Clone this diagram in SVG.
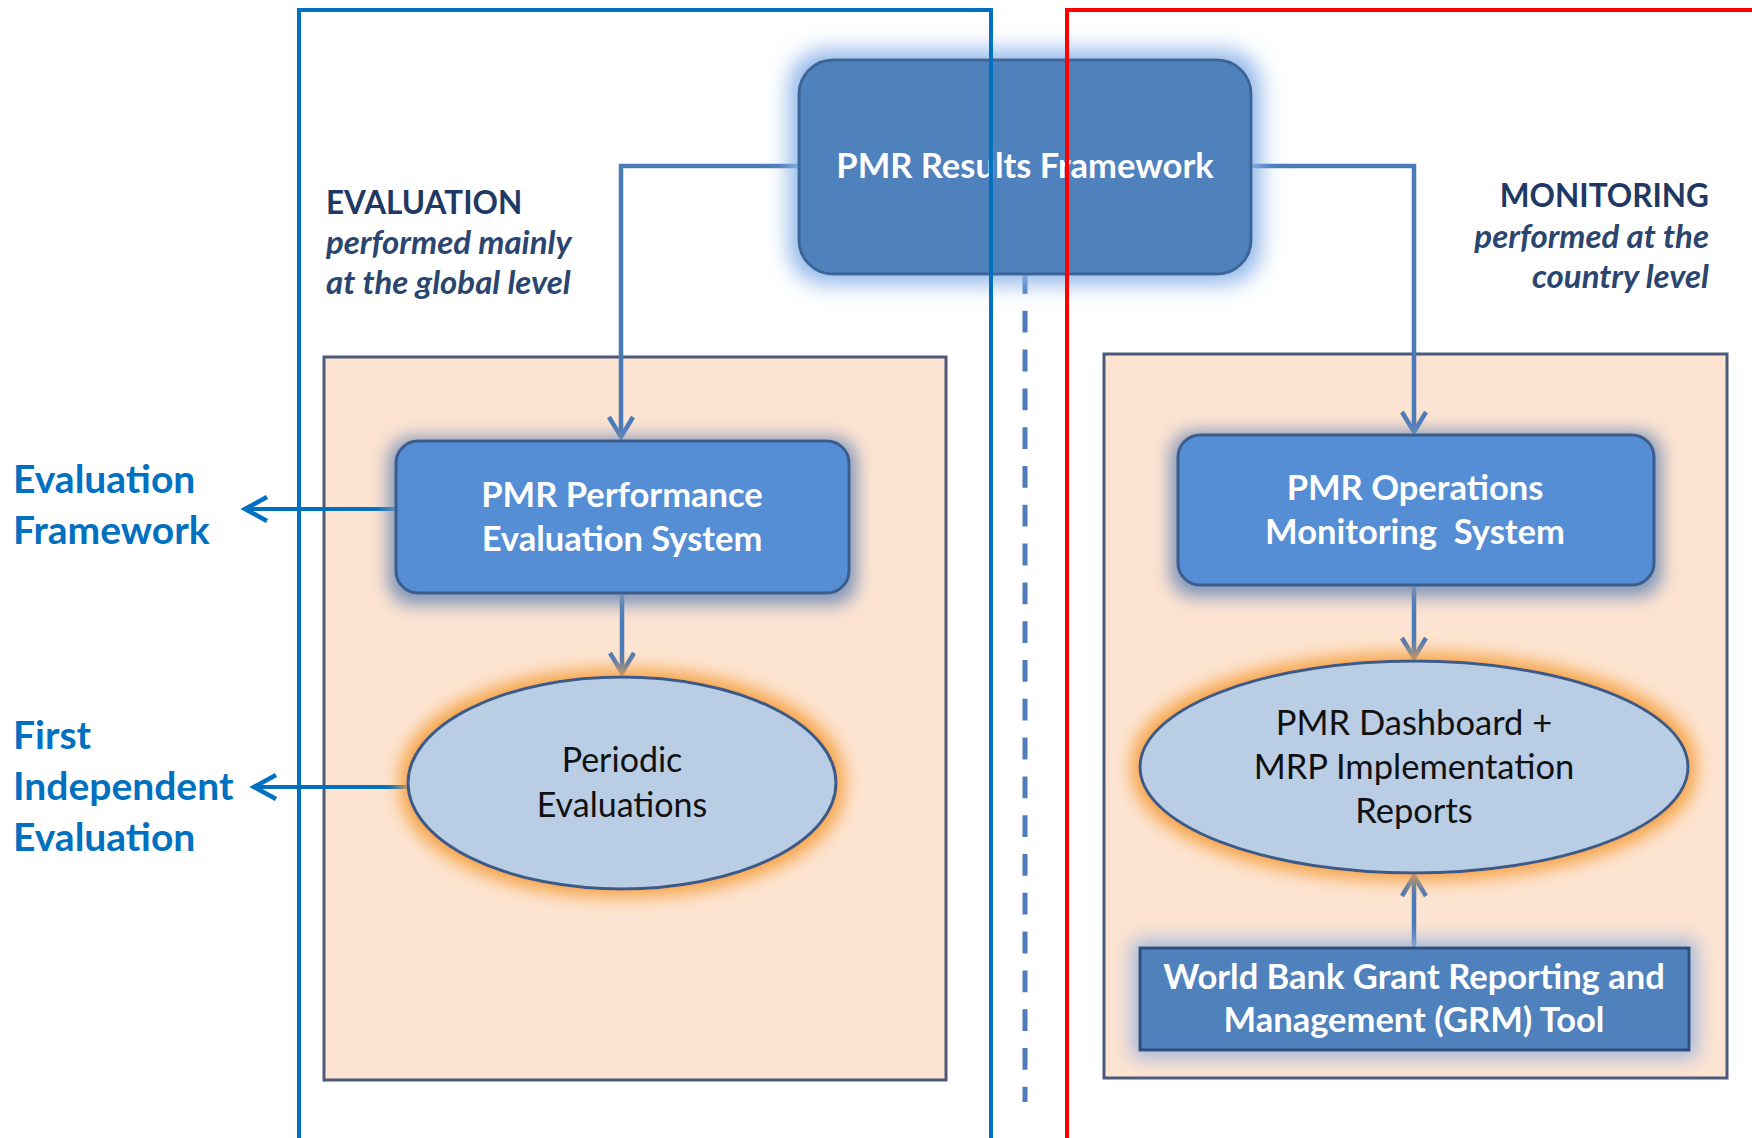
<svg xmlns="http://www.w3.org/2000/svg" width="1752" height="1138" viewBox="0 0 1752 1138">
<style>
.frameB{fill:none;stroke:#0070c0;stroke-width:4}
.frameR{fill:none;stroke:#ff0000;stroke-width:4}
.panel{fill:#fde4d2;stroke:#4b5a78;stroke-width:3}
.top{fill:#4f81bd;stroke:#3c6597;stroke-width:3}
.sys{fill:#558ed5;stroke:#3b5d8e;stroke-width:3}
.ell{fill:#b9cde5;stroke:#3a5a86;stroke-width:3}
.grm{fill:#4f81bd;stroke:#2d4e7c;stroke-width:3}
.conn{fill:none;stroke:#4a7ab8;stroke-width:4.5}
.lab{fill:none;stroke:#0070c0;stroke-width:4}
.dash{stroke:#4f7dbb;stroke-width:5;stroke-dasharray:21.8 17}
.wt{font-family:Lato,"Open Sans",sans-serif;font-weight:bold;fill:#ffffff;text-anchor:middle}
.bt{font-family:Lato,"Open Sans",sans-serif;fill:#111111;text-anchor:middle}
.side{font-family:Lato,"Open Sans",sans-serif;font-weight:bold;fill:#0070c0;font-size:39px}
.head{font-family:Lato,"Open Sans",sans-serif;font-weight:bold;fill:#1f3864;font-size:31.5px}
.sub{font-family:Lato,"Open Sans",sans-serif;font-weight:bold;font-style:italic;fill:#2a4670;font-size:33px}
</style>
<defs>
<filter id="gTop" x="-25%" y="-50%" width="150%" height="200%">
<feMorphology in="SourceAlpha" operator="dilate" radius="8" result="d"/>
<feGaussianBlur in="d" stdDeviation="11" result="b"/>
<feFlood flood-color="#8db5ea"/>
<feComposite in2="b" operator="in" result="g"/>
<feMerge><feMergeNode in="g"/><feMergeNode in="SourceGraphic"/></feMerge>
</filter>
<filter id="gSys" x="-20%" y="-40%" width="140%" height="180%">
<feMorphology in="SourceAlpha" operator="dilate" radius="6" result="d"/>
<feGaussianBlur in="d" stdDeviation="9" result="b"/>
<feOffset in="b" dy="4" result="o"/>
<feFlood flood-color="#7c93b8"/>
<feComposite in2="o" operator="in" result="g"/>
<feMerge><feMergeNode in="g"/><feMergeNode in="SourceGraphic"/></feMerge>
</filter>
<filter id="gEll" x="-20%" y="-35%" width="140%" height="170%">
<feMorphology in="SourceAlpha" operator="dilate" radius="6" result="d"/>
<feGaussianBlur in="d" stdDeviation="9" result="b"/>
<feFlood flood-color="#f5a03e"/>
<feComposite in2="b" operator="in" result="g"/>
<feMerge><feMergeNode in="g"/><feMergeNode in="SourceGraphic"/></feMerge>
</filter>
<filter id="gGrm" x="-20%" y="-60%" width="140%" height="220%">
<feMorphology in="SourceAlpha" operator="dilate" radius="6" result="d"/>
<feGaussianBlur in="d" stdDeviation="10" result="b"/>
<feFlood flood-color="#9bb4dc"/>
<feComposite in2="b" operator="in" result="g"/>
<feMerge><feMergeNode in="g"/><feMergeNode in="SourceGraphic"/></feMerge>
</filter>
<marker id="ah" markerUnits="userSpaceOnUse" markerWidth="30" markerHeight="30" viewBox="-24 -15 28 30" refX="0" refY="0" orient="auto">
<path d="M -20 -12 L 0 0 L -20 12" fill="none" stroke="#4a7ab8" stroke-width="4.5"/>
</marker>
<marker id="ahB" markerUnits="userSpaceOnUse" markerWidth="30" markerHeight="30" viewBox="-24 -15 28 30" refX="0" refY="0" orient="auto">
<path d="M -22 -12 L 0 0 L -22 12" fill="none" stroke="#0070c0" stroke-width="4.5"/>
</marker>
</defs>
<rect width="1752" height="1138" fill="#ffffff"/>

<g id="panel-evaluation">
<rect class="panel" x="324" y="357" width="622" height="723"/>
</g>
<g id="panel-monitoring">
<rect class="panel" x="1104" y="354" width="623" height="724"/>
</g>

<g id="heading-evaluation">
<text class="head" x="326" y="214">EVALUATION</text>
<text class="sub" x="326" y="254">performed mainly</text>
<text class="sub" x="326" y="294">at the global level</text>
</g>
<g id="heading-monitoring">
<text class="head" x="1709" y="207" text-anchor="end">MONITORING</text>
<text class="sub" x="1709" y="248" text-anchor="end">performed at the</text>
<text class="sub" x="1709" y="288" text-anchor="end">country level</text>
</g>

<g id="connectors">
<line class="dash" x1="1025" y1="272" x2="1025" y2="1102"/>
<path class="conn" d="M 800 166 H 621 V 437" marker-end="url(#ah)"/>
<path class="conn" d="M 1250 166 H 1414 V 432" marker-end="url(#ah)"/>
<path class="conn" d="M 622 593 V 673" marker-end="url(#ah)"/>
<path class="conn" d="M 1414 585 V 658" marker-end="url(#ah)"/>
<path class="conn" d="M 1414 947 V 876" marker-end="url(#ah)"/>
<path class="lab" d="M 396 509 H 245" marker-end="url(#ahB)"/>
<path class="lab" d="M 408 787 H 254" marker-end="url(#ahB)"/>
</g>

<g id="node-results-framework">
<rect class="top" x="799" y="60" width="452" height="214" rx="34" filter="url(#gTop)"/>
<text class="wt" x="1025" y="178" font-size="34.5">PMR Results Framework</text>
</g>

<g id="node-performance-evaluation">
<rect class="sys" x="396" y="441" width="453" height="152" rx="22" filter="url(#gSys)"/>
<text class="wt" x="622" y="507" font-size="34.5">PMR Performance</text>
<text class="wt" x="622" y="551" font-size="34.5">Evaluation System</text>
</g>

<g id="node-periodic-evaluations">
<ellipse class="ell" cx="622" cy="783" rx="214" ry="106" filter="url(#gEll)"/>
<text class="bt" x="622" y="772" font-size="34">Periodic</text>
<text class="bt" x="622" y="817" font-size="34">Evaluations</text>
</g>

<g id="node-operations-monitoring">
<rect class="sys" x="1178" y="435" width="476" height="150" rx="22" filter="url(#gSys)"/>
<text class="wt" x="1415" y="500" font-size="34.5">PMR Operations</text>
<text class="wt" x="1415" y="544" font-size="34.5" xml:space="preserve">Monitoring  System</text>
</g>

<g id="node-dashboard">
<ellipse class="ell" cx="1414" cy="767" rx="274" ry="106" filter="url(#gEll)"/>
<text class="bt" x="1414" y="735" font-size="34.5">PMR Dashboard +</text>
<text class="bt" x="1414" y="779" font-size="34.5">MRP Implementation</text>
<text class="bt" x="1414" y="823" font-size="34.5">Reports</text>
</g>

<g id="node-grm">
<rect class="grm" x="1140" y="948" width="549" height="102" filter="url(#gGrm)"/>
<text class="wt" x="1414" y="989" font-size="34.5">World Bank Grant Reporting and</text>
<text class="wt" x="1414" y="1032" font-size="34.5">Management (GRM) Tool</text>
</g>

<g id="label-evaluation-framework">
<text class="side" x="13" y="493">Evaluation</text>
<text class="side" x="13" y="544">Framework</text>
</g>
<g id="label-first-independent-evaluation">
<text class="side" x="13" y="749">First</text>
<text class="side" x="13" y="800">Independent</text>
<text class="side" x="13" y="851">Evaluation</text>
</g>

<g id="frames">
<rect class="frameB" x="299" y="10" width="692" height="1150"/>
<rect class="frameR" x="1067" y="10" width="720" height="1150"/>
</g>
</svg>
